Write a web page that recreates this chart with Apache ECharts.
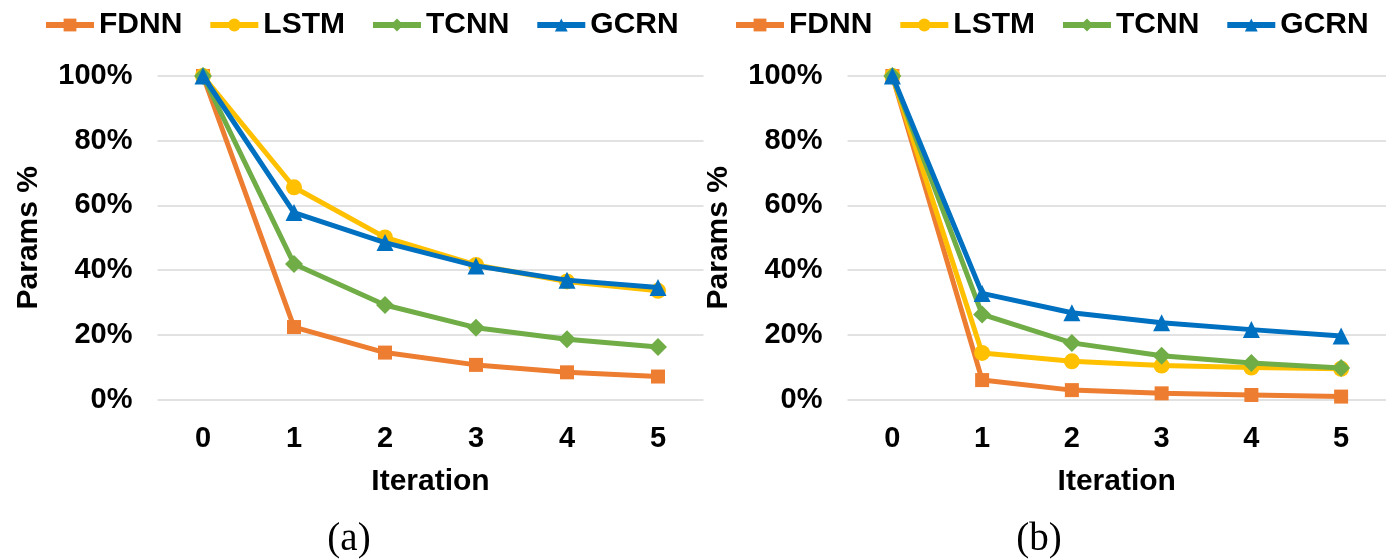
<!DOCTYPE html>
<html>
<head>
<meta charset="utf-8">
<script src="https://cdn.jsdelivr.net/npm/echarts@6/dist/echarts.min.js"></script>
<style>
html,body{margin:0;padding:0;background:#fff;}
#chart{width:1386px;height:560px;}
</style>
</head>
<body>
<div id="chart"></div>
<script>
const iterations = ['0', '1', '2', '3', '4', '5'];
const seriesNames = ['FDNN', 'LSTM', 'TCNN', 'GCRN'];
const yTicks = [0, 20, 40, 60, 80, 100];

// Panel (a)
const fdnnA = [100, 22.4, 14.5, 10.7, 8.4, 7.1];
const lstmA = [100, 65.6, 50.1, 41.6, 36.5, 33.6];
const tcnnA = [100, 41.9, 29.2, 22.2, 18.6, 16.2];
const gcrnA = [100, 57.8, 48.5, 41.3, 36.9, 34.6];

// Panel (b)
const fdnnB = [100, 6.0, 2.9, 1.9, 1.4, 0.9];
const lstmB = [100, 14.4, 11.8, 10.5, 9.9, 9.5];
const tcnnB = [100, 26.3, 17.5, 13.5, 11.3, 9.7];
const gcrnB = [100, 32.8, 26.8, 23.7, 21.6, 19.6];

const panelLabels = ['(a)', '(b)'];

const colors = ['#ED7D31', '#FFC000', '#70AD47', '#0070C0'];
const symbols = ['rect', 'circle', 'diamond', 'triangle'];
const symbolSizes = [14, 16, 18, 17];
const FONT = 'Liberation Sans, Arial, sans-serif';

const chart = echarts.init(document.getElementById('chart'), null, {renderer: 'canvas'});

const grids = [
  {left: 157.5, top: 76, width: 546, height: 323.5},
  {left: 847.5, top: 76, width: 546, height: 323.5}
];

function xAxisFor(i) {
  return {
    type: 'category', gridIndex: i, data: iterations, boundaryGap: true,
    axisLine: {show: false}, axisTick: {show: false},
    axisLabel: {margin: 25, fontSize: 29, fontWeight: 'bold', fontFamily: FONT, color: '#000'},
    name: 'Iteration', nameLocation: 'middle', nameGap: 67,
    nameTextStyle: {fontSize: 30, fontWeight: 'bold', fontFamily: FONT, color: '#000'}
  };
}
function yAxisFor(i) {
  return {
    type: 'value', gridIndex: i, min: yTicks[0], max: yTicks[yTicks.length - 1], interval: 20,
    axisLine: {show: false}, axisTick: {show: false},
    splitLine: {show: true, lineStyle: {color: '#d9d9d9', width: 1.5}},
    axisLabel: {margin: 25, fontSize: 29, fontWeight: 'bold', fontFamily: FONT, color: '#000', formatter: '{value}%'},
    name: 'Params %', nameLocation: 'middle', nameRotate: 90, nameGap: 114,
    nameTextStyle: {fontSize: 30, fontWeight: 'bold', fontFamily: FONT, color: '#000'}
  };
}

const panelData = [[fdnnA, lstmA, tcnnA, gcrnA], [fdnnB, lstmB, tcnnB, gcrnB]];
const series = [];
panelData.forEach((arrs, p) => {
  arrs.forEach((d, k) => {
    series.push({
      name: seriesNames[k], type: 'line', xAxisIndex: p, yAxisIndex: p,
      data: d, symbol: symbols[k], symbolSize: symbolSizes[k],
      itemStyle: {color: colors[k]},
      lineStyle: {color: colors[k], width: 5},
      showAllSymbol: true, animation: false, z: 2 + k
    });
  });
});

function legendFor(left) {
  return {
    left: left, top: 5, data: seriesNames, itemWidth: 48, itemHeight: 16, itemGap: 25,
    lineStyle: {width: 6},
    textStyle: {fontSize: 30, fontWeight: 'bold', fontFamily: FONT, color: '#000'},
    selectedMode: false
  };
}

chart.setOption({
  animation: false,
  grid: grids,
  xAxis: [xAxisFor(0), xAxisFor(1)],
  yAxis: [yAxisFor(0), yAxisFor(1)],
  legend: [legendFor(38), legendFor(728)],
  series: series,
  graphic: [
    {type: 'text', x: 349, y: 540, style: {text: panelLabels[0], fontSize: 39, fontFamily: 'Liberation Serif, Times New Roman, serif', fill: '#000', align: 'center', verticalAlign: 'middle'}},
    {type: 'text', x: 1039, y: 540, style: {text: panelLabels[1], fontSize: 39, fontFamily: 'Liberation Serif, Times New Roman, serif', fill: '#000', align: 'center', verticalAlign: 'middle'}}
  ]
});
</script>
</body>
</html>
